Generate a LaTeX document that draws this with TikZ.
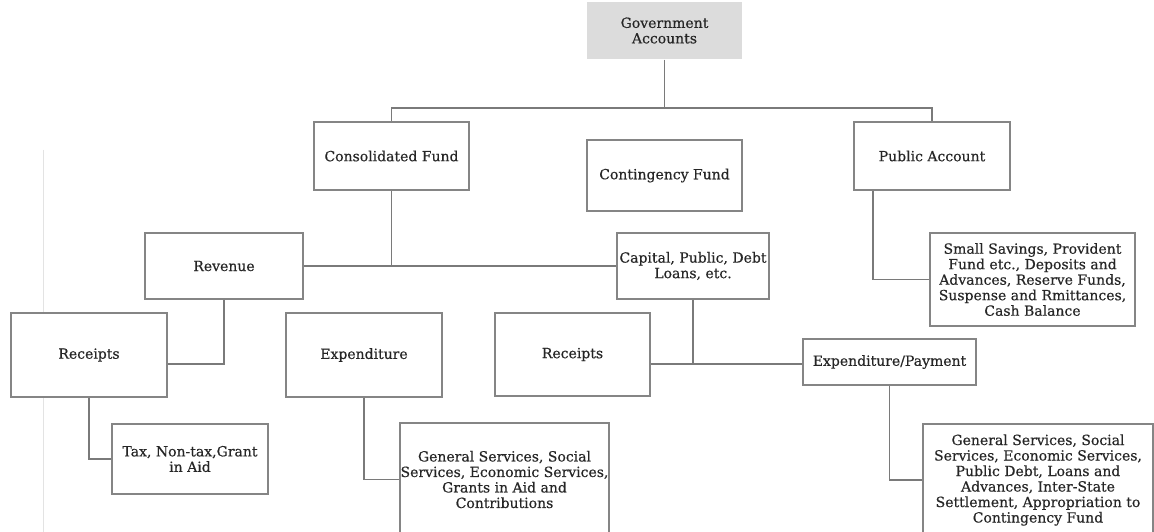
\documentclass[tikz,border=0pt]{standalone}
\usepackage{fontspec}
\newfontfamily\boxfont{DejaVu Serif}[FakeBold=0.4]
\definecolor{bordergray}{HTML}{858585}
\definecolor{linegray}{HTML}{7A7A7A}
\definecolor{textdark}{HTML}{262626}
\definecolor{govfill}{HTML}{DCDCDC}
\begin{document}
\begin{tikzpicture}[x=1pt,y=-1pt,
  box/.style={draw=bordergray, line width=1.2pt, fill=white, inner sep=0pt,
    align=center, text=textdark, font={\boxfont\fontsize{14}{15.5}\selectfont}},
  govbox/.style={box, draw=none, fill=govfill},
  conn/.style={draw=linegray, line width=1.2pt}]
\useasboundingbox (0,0) rectangle (1154,532);
\fill[white] (0,0) rectangle (1154,532);
% faint scan edge
\draw[gray!22, line width=0.8pt] (43,150) -- (43,532);
% nodes
\node[govbox, minimum width=155pt, minimum height=57pt] (gov) at (664.5,30.5) {Government\\Accounts};
\node[box, minimum width=155pt, minimum height=68pt] (cons) at (391.5,156) {Consolidated Fund};
\node[box, minimum width=155pt, minimum height=71pt] (cont) at (664.5,175.5) {Contingency Fund};
\node[box, minimum width=156pt, minimum height=68pt] (pub) at (932,156) {Public Account};
\node[box, minimum width=158pt, minimum height=66pt] (rev) at (224,266) {Revenue};
\node[box, minimum width=152pt, minimum height=66pt] (cap) at (693,266) {Capital, Public, Debt\\Loans, etc.};
\node[box, minimum width=205pt, minimum height=93pt] (sav) at (1032.5,279.5) {Small Savings, Provident\\Fund etc., Deposits and\\Advances, Reserve Funds,\\Suspense and Rmittances,\\Cash Balance};
\node[box, minimum width=156pt, minimum height=84pt] (rec1) at (89,355) {Receipts};
\node[box, minimum width=156pt, minimum height=84pt] (exp1) at (364,355) {Expenditure};
\node[box, minimum width=155pt, minimum height=83pt] (rec2) at (572.5,354.5) {Receipts};
\node[box, minimum width=173pt, minimum height=46pt] (exppay) at (889.5,362) {Expenditure/Payment};
\node[box, minimum width=156pt, minimum height=70pt] (tax) at (190,459) {Tax, Non-tax,Grant\\in Aid};
\node[box, minimum width=209pt, minimum height=113pt] (gen1) at (504.5,479.5) {General Services, Social\\Services, Economic Services,\\Grants in Aid and\\Contributions};
\node[box, minimum width=230pt, minimum height=112pt] (gen2) at (1038,480) {General Services, Social\\Services, Economic Services,\\Public Debt, Loans and\\Advances, Inter-State\\Settlement, Appropriation to\\Contingency Fund};
% connectors
\coordinate (topbar) at (0,108);
\coordinate (midbar) at (0,364);
\draw[conn] (gov.south) -- (gov.south |- topbar);
\draw[conn] (cons.north) -- (cons.north |- topbar) -- (pub.north |- topbar) -- (pub.north);
\draw[conn] (cons.south) -- (cons.south |- rev.east);
\draw[conn] (rev.east) -- (cap.west);
\draw[conn] (rev.south) -- (rev.south |- midbar) -- (rec1.east |- midbar);
\draw[conn] (rec1.south) -- (rec1.south |- tax.west) -- (tax.west);
\draw[conn] (exp1.south) -- (exp1.south |- gen1.west) -- (gen1.west);
\draw[conn] (cap.south) -- (cap.south |- midbar);
\draw[conn] (rec2.east |- midbar) -- (exppay.west |- midbar);
\draw[conn] (exppay.south) -- (exppay.south |- gen2.west) -- (gen2.west);
\coordinate (pubdrop) at ([xshift=-59pt]pub.south);
\draw[conn] (pubdrop) -- (pubdrop |- sav.west) -- (sav.west);
\end{tikzpicture}
\end{document}
